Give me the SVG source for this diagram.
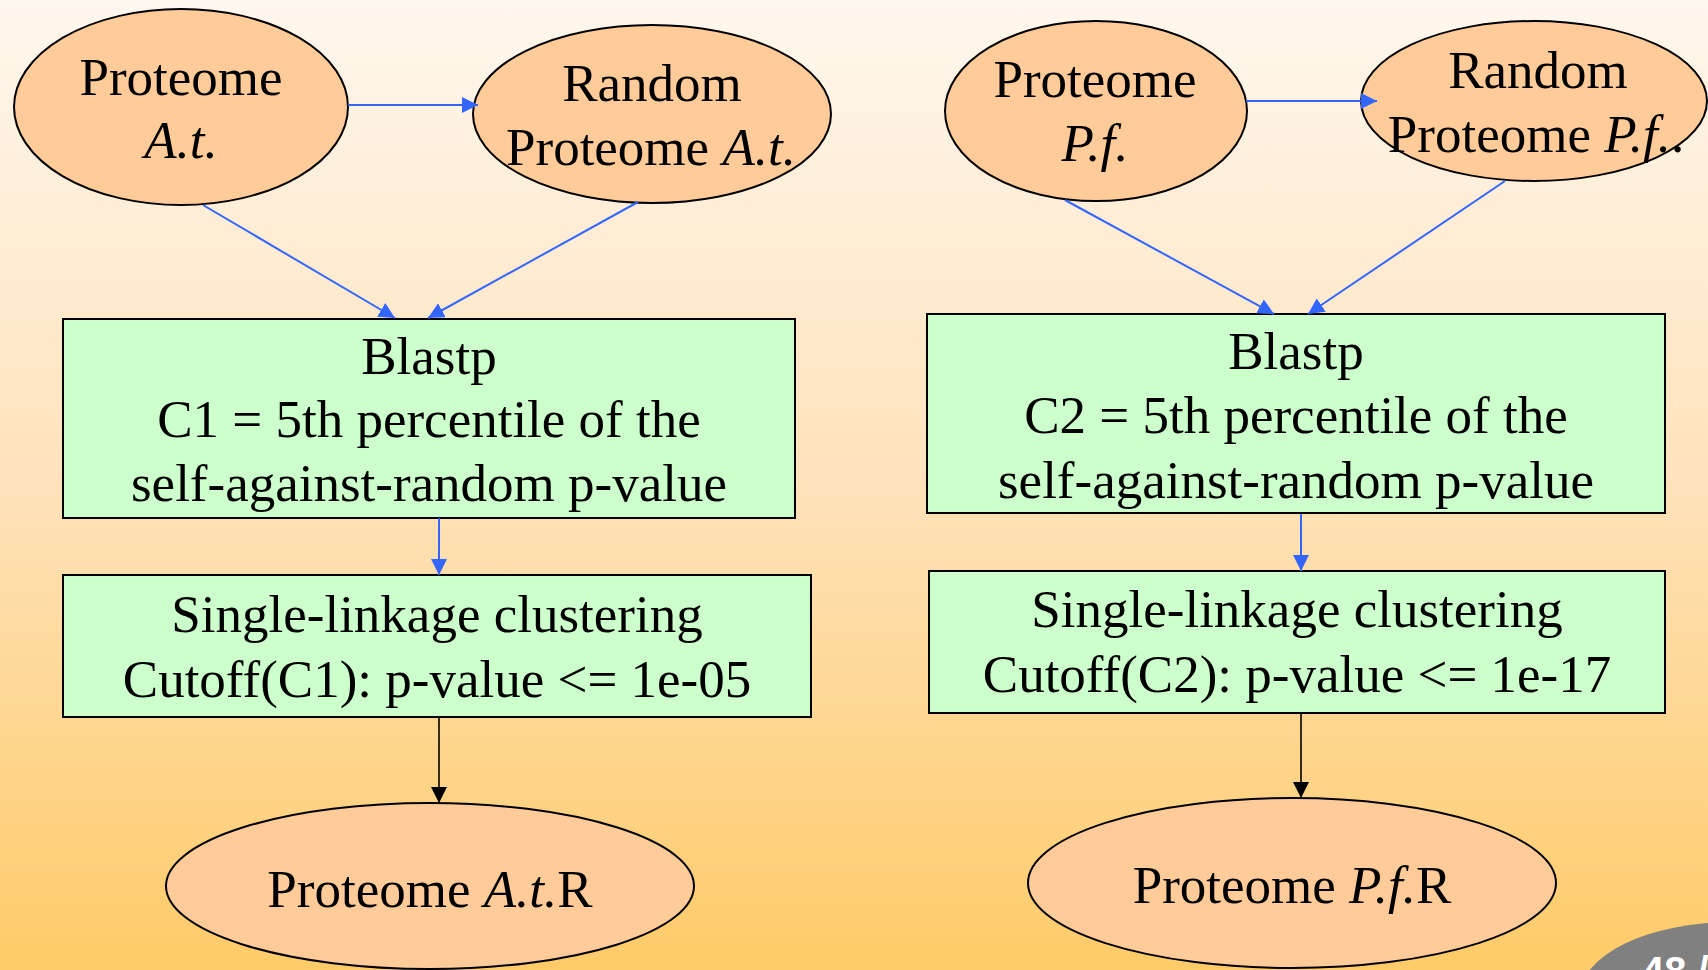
<svg xmlns="http://www.w3.org/2000/svg" width="1708" height="970" viewBox="0 0 1708 970">
  <defs>
    <linearGradient id="bg" x1="0" y1="0" x2="0" y2="1">
      <stop offset="0" stop-color="#FEF7EE"/>
      <stop offset="0.5" stop-color="#FFE2BA"/>
      <stop offset="1" stop-color="#FFCB68"/>
    </linearGradient>
    <marker id="blueHead" viewBox="0 0 16 16" refX="16" refY="8" markerWidth="16" markerHeight="16" markerUnits="userSpaceOnUse" orient="auto">
      <path d="M0,0 L16,8 L0,16 z" fill="#3366FF"/>
    </marker>
    <marker id="blackHead" viewBox="0 0 16 16" refX="16" refY="8" markerWidth="16" markerHeight="16" markerUnits="userSpaceOnUse" orient="auto">
      <path d="M0,0 L16,8 L0,16 z" fill="#000000"/>
    </marker>
  </defs>
  <style>
    .oval { fill: #FFCC99; stroke: #000000; stroke-width: 2; }
    .box { fill: #CCFFCC; stroke: #000000; stroke-width: 2; }
    .lbl { font-family: "Liberation Serif", "Times New Roman", serif; font-size: 53px; fill: #000000; text-anchor: middle; }
    .it { font-style: italic; }
    .blue { stroke: #3366FF; stroke-width: 2; fill: none; marker-end: url(#blueHead); }
    .black { stroke: #000000; stroke-width: 1.6; fill: none; marker-end: url(#blackHead); }
  </style>

  <rect x="0" y="0" width="1708" height="970" fill="url(#bg)"/>

  <!-- left column -->
  <g id="proteome-at">
    <ellipse class="oval" cx="181" cy="107" rx="167" ry="98"/>
    <text class="lbl" x="181" y="95">Proteome</text>
    <text class="lbl" x="181" y="158"><tspan class="it">A.t.</tspan></text>
  </g>
  <g id="random-at">
    <ellipse class="oval" cx="652" cy="114" rx="179" ry="89"/>
    <text class="lbl" x="652" y="101">Random</text>
    <text class="lbl" x="651" y="165">Proteome <tspan class="it">A.t.</tspan></text>
  </g>
  <g id="blastp-c1">
    <rect class="box" x="63" y="319" width="732" height="199"/>
    <text class="lbl" x="429" y="374">Blastp</text>
    <text class="lbl" x="429" y="437">C1 = 5th percentile of the</text>
    <text class="lbl" x="429" y="501">self-against-random p-value</text>
  </g>
  <g id="cluster-c1">
    <rect class="box" x="63" y="575" width="748" height="142"/>
    <text class="lbl" x="437" y="632">Single-linkage clustering</text>
    <text class="lbl" x="437" y="697">Cutoff(C1): p-value &lt;= 1e-05</text>
  </g>
  <g id="result-at">
    <ellipse class="oval" cx="430" cy="886" rx="264" ry="83"/>
    <text class="lbl" x="430" y="907">Proteome <tspan class="it">A.t.</tspan>R</text>
  </g>

  <!-- right column -->
  <g id="proteome-pf">
    <ellipse class="oval" cx="1096" cy="111" rx="151" ry="90"/>
    <text class="lbl" x="1095" y="97">Proteome</text>
    <text class="lbl" x="1095" y="161"><tspan class="it">P.f.</tspan></text>
  </g>
  <g id="random-pf">
    <ellipse class="oval" cx="1534" cy="101" rx="173" ry="80"/>
    <text class="lbl" x="1538" y="88">Random</text>
    <text class="lbl" x="1536" y="152">Proteome <tspan class="it">P.f.</tspan>.</text>
  </g>
  <g id="blastp-c2">
    <rect class="box" x="927" y="314" width="738" height="199"/>
    <text class="lbl" x="1296" y="369">Blastp</text>
    <text class="lbl" x="1296" y="433">C2 = 5th percentile of the</text>
    <text class="lbl" x="1296" y="498">self-against-random p-value</text>
  </g>
  <g id="cluster-c2">
    <rect class="box" x="929" y="571" width="736" height="142"/>
    <text class="lbl" x="1297" y="627">Single-linkage clustering</text>
    <text class="lbl" x="1297" y="692">Cutoff(C2): p-value &lt;= 1e-17</text>
  </g>
  <g id="result-pf">
    <ellipse class="oval" cx="1292" cy="883" rx="264" ry="85"/>
    <text class="lbl" x="1292" y="903">Proteome <tspan class="it">P.f.</tspan>R</text>
  </g>

  <!-- connectors, drawn above the nodes so arrowheads stay visible -->
  <g id="connectors">
    <line class="blue" x1="348" y1="105" x2="478" y2="105"/>
    <line class="blue" x1="203" y1="205" x2="395" y2="318"/>
    <line class="blue" x1="638" y1="202" x2="428" y2="318"/>
    <line class="blue" x1="439" y1="518" x2="439" y2="575"/>
    <line class="black" x1="439" y1="717" x2="439" y2="803"/>

    <line class="blue" x1="1246" y1="101" x2="1377" y2="101"/>
    <line class="blue" x1="1065" y1="200" x2="1274" y2="314"/>
    <line class="blue" x1="1505" y1="181" x2="1308" y2="314"/>
    <line class="blue" x1="1301" y1="514" x2="1301" y2="571"/>
    <line class="black" x1="1301" y1="713" x2="1301" y2="798"/>
  </g>

  <!-- page badge -->
  <g id="page-badge">
    <ellipse cx="1732" cy="996" rx="152" ry="74" fill="#808080"/>
    <text x="1642" y="985" font-family="Liberation Sans, Arial, sans-serif" font-size="40" font-weight="bold" fill="#FFFFFF">48 /</text>
  </g>
</svg>
